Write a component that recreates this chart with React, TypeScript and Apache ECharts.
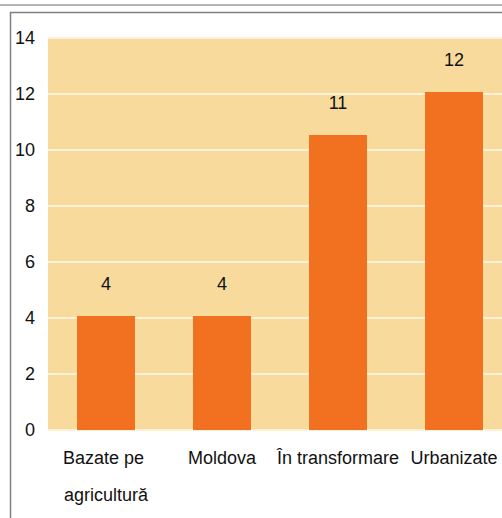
import React, { useEffect, useRef } from "react";
import * as echarts from "echarts";

const categories = ["Bazate pe \nagricultură", "Moldova", "În transformare", "Urbanizate"];
const values = [4.07, 4.07, 10.54, 12.07];
const valueLabels = ["4", "4", "11", "12"];
const yMin = 0;
const yMax = 14;
const yInterval = 2;

export default function App() {
  const ref = useRef<HTMLDivElement>(null);
  useEffect(() => {
    if (!ref.current) return;
    const chart = echarts.init(ref.current, null, { renderer: "svg" });
    chart.setOption({
      animation: false,
      backgroundColor: "#ffffff",
      textStyle: { fontFamily: "Arial, 'Liberation Sans', sans-serif" },
      grid: {
        left: 48,
        top: 38,
        width: 464,
        height: 392,
        show: true,
        backgroundColor: "#F8DB9C",
        borderWidth: 0,
      },
      xAxis: {
        type: "category",
        data: categories,
        axisLine: { show: false },
        axisTick: { show: false },
        axisLabel: {
          interval: 0,
          color: "#111111",
          fontSize: 18,
          lineHeight: 37,
          margin: 9,
        },
      },
      yAxis: {
        type: "value",
        min: yMin,
        max: yMax,
        interval: yInterval,
        axisLine: { show: false },
        axisTick: { show: false },
        axisLabel: { color: "#111111", fontSize: 18, margin: 13 },
        splitLine: { show: true, lineStyle: { color: "#FFF1D8", width: 2 } },
      },
      series: [
        {
          type: "bar",
          data: values,
          barCategoryGap: "50%",
          itemStyle: { color: "#F27121" },
          label: {
            show: true,
            position: "top",
            distance: 23,
            color: "#111111",
            fontSize: 18,
            formatter: (p: any) => valueLabels[p.dataIndex],
          },
        },
      ],
      graphic: [
        {
          type: "line",
          shape: { x1: 0, y1: 5, x2: 540, y2: 5 },
          style: { stroke: "#b4b4b4", lineWidth: 2 },
          z: 10,
        },
        {
          type: "rect",
          shape: { x: 10.5, y: 12.5, width: 700, height: 700 },
          style: { stroke: "#808080", lineWidth: 1.5, fill: "none" },
          z: 10,
        },
      ],
    });
    return () => chart.dispose();
  }, []);
  return (
    <div style={{ position: "fixed", left: 0, top: 0, width: 502, height: 518, overflow: "hidden" }}>
      <div ref={ref} style={{ width: 540, height: 518 }} />
    </div>
  );
}
